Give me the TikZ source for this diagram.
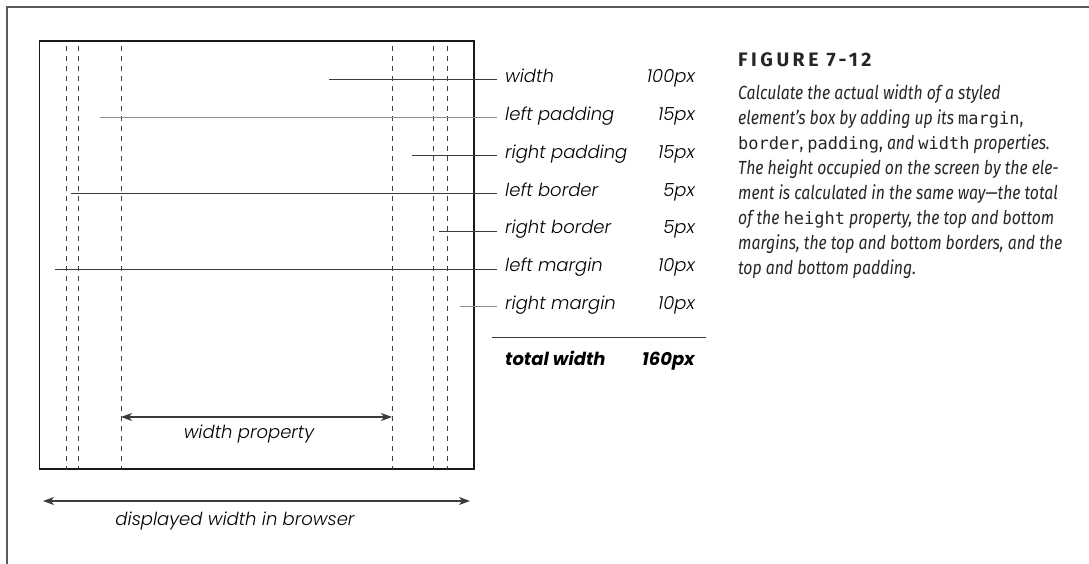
\documentclass[tikz,border=0pt]{standalone}
\usepackage{fontspec}
\setmainfont{Poppins}[UprightFont=* Light, ItalicFont=* Light Italic, BoldFont=* Bold, BoldItalicFont=* Bold Italic]
\newfontfamily\capfont[FakeStretch=0.83]{Fira Sans}
\newfontfamily\headfont[LetterSpace=18]{Fira Sans}
\setmonofont{DejaVu Sans Mono}
\usetikzlibrary{arrows.meta}
\definecolor{framegray}{RGB}{90,90,90}
\definecolor{inkgray}{RGB}{60,60,60}
\newcommand{\cw}[1]{{\ttfamily\upshape\fontsize{17}{25}\selectfont #1}}

\begin{document}
\begin{tikzpicture}[x=1pt,y=-1pt,
    guide/.style={draw=inkgray, line width=0.9pt, dash pattern=on 5pt off 5pt},
    leader/.style={draw=inkgray, line width=1pt},
    lbl/.style={anchor=mid west, inner xsep=8pt, inner ysep=0pt, font=\fontsize{18}{20}\selectfont\itshape},
    val/.style={anchor=mid east, inner sep=0pt, font=\fontsize{18}{20}\selectfont\itshape},
    measure/.style={draw=inkgray, line width=1.1pt, {Stealth[length=11pt,width=8pt,inset=3pt]}-{Stealth[length=11pt,width=8pt,inset=3pt]}}]
  \useasboundingbox (0,0) rectangle (1089,564);

  % page frame
  \draw[framegray, line width=2pt] (7,564) -- (7,7.5) -- (1089,7.5);

  % element box and its edges
  \draw[black!90, line width=1.5pt] (39.5,41) rectangle (474,469);
  \foreach \gx in {66,78.7,121,392,433,447}
    \draw[guide] (\gx,46) -- (\gx,469);

  % labels with leaders
  \foreach \ry/\rx/\rtxt/\rval/\rn/\rc in {
      80/329/width/100px/w/inkgray,
      117.8/99.7/left padding/15px/lpad/black!45,
      155.6/412/right padding/15px/rpad/inkgray,
      193.4/71/left border/5px/lbor/inkgray,
      231.2/438.7/right border/5px/rbor/inkgray,
      269/55/left margin/10px/lmar/inkgray,
      306.8/460/right margin/10px/rmar/black!45}{
    \coordinate (\rn s) at (\rx,\ry);
    \node[lbl] (\rn) at (497,\ry) {\rtxt};
    \node[val] (\rn v) at (695,\ry) {\rval};
    \draw[leader, draw=\rc] (\rn s) -- (\rn.mid west);
  }

  % sum
  \coordinate (sumL) at (492,337);
  \coordinate (sumR) at (706,337);
  \draw[leader] (sumL) -- (sumR);
  \node[lbl, font=\fontsize{18}{20}\selectfont\bfseries\itshape] (tot) at (497,363) {total width};
  \node[val, font=\fontsize{18}{20}\selectfont\bfseries\itshape] (totv) at (695,363) {160px};

  % width property
  \coordinate (wpL) at (121,417);
  \coordinate (wpR) at (392,417);
  \draw[measure] (wpL) -- (wpR);
  \node[font=\fontsize{18}{20}\selectfont\itshape, anchor=mid] (wp) at (249,436) {width property};

  % browser width
  \coordinate (dwL) at (43,501);
  \coordinate (dwR) at (470,501);
  \draw[measure] (dwL) -- (dwR);
  \node[font=\fontsize{18}{20}\selectfont\itshape, anchor=mid] (dw) at (235,523) {displayed width in browser};

  % caption
  \node[anchor=base west, inner sep=0pt, font=\headfont\bfseries\fontsize{19.5}{20}\selectfont, text=black!85] (fig) at (738,67) {FIGURE 7-12};
  \node[anchor=north west, inner sep=0pt, align=left, text=black!85,
        font=\capfont\itshape\fontsize{19}{25}\selectfont] (cap) at (738,84)
    {Calculate the actual width of a styled\\
     element’s box by adding up its \cw{margin}{\upshape,}\\
     \cw{border}{\upshape,} \cw{padding}{\upshape,} and \cw{width} properties.\\
     The height occupied on the screen by the ele-\\
     ment is calculated in the same way—the total\\
     of the \cw{height} property, the top and bottom\\
     margins, the top and bottom borders, and the\\
     top and bottom padding.};
\end{tikzpicture}
\end{document}
